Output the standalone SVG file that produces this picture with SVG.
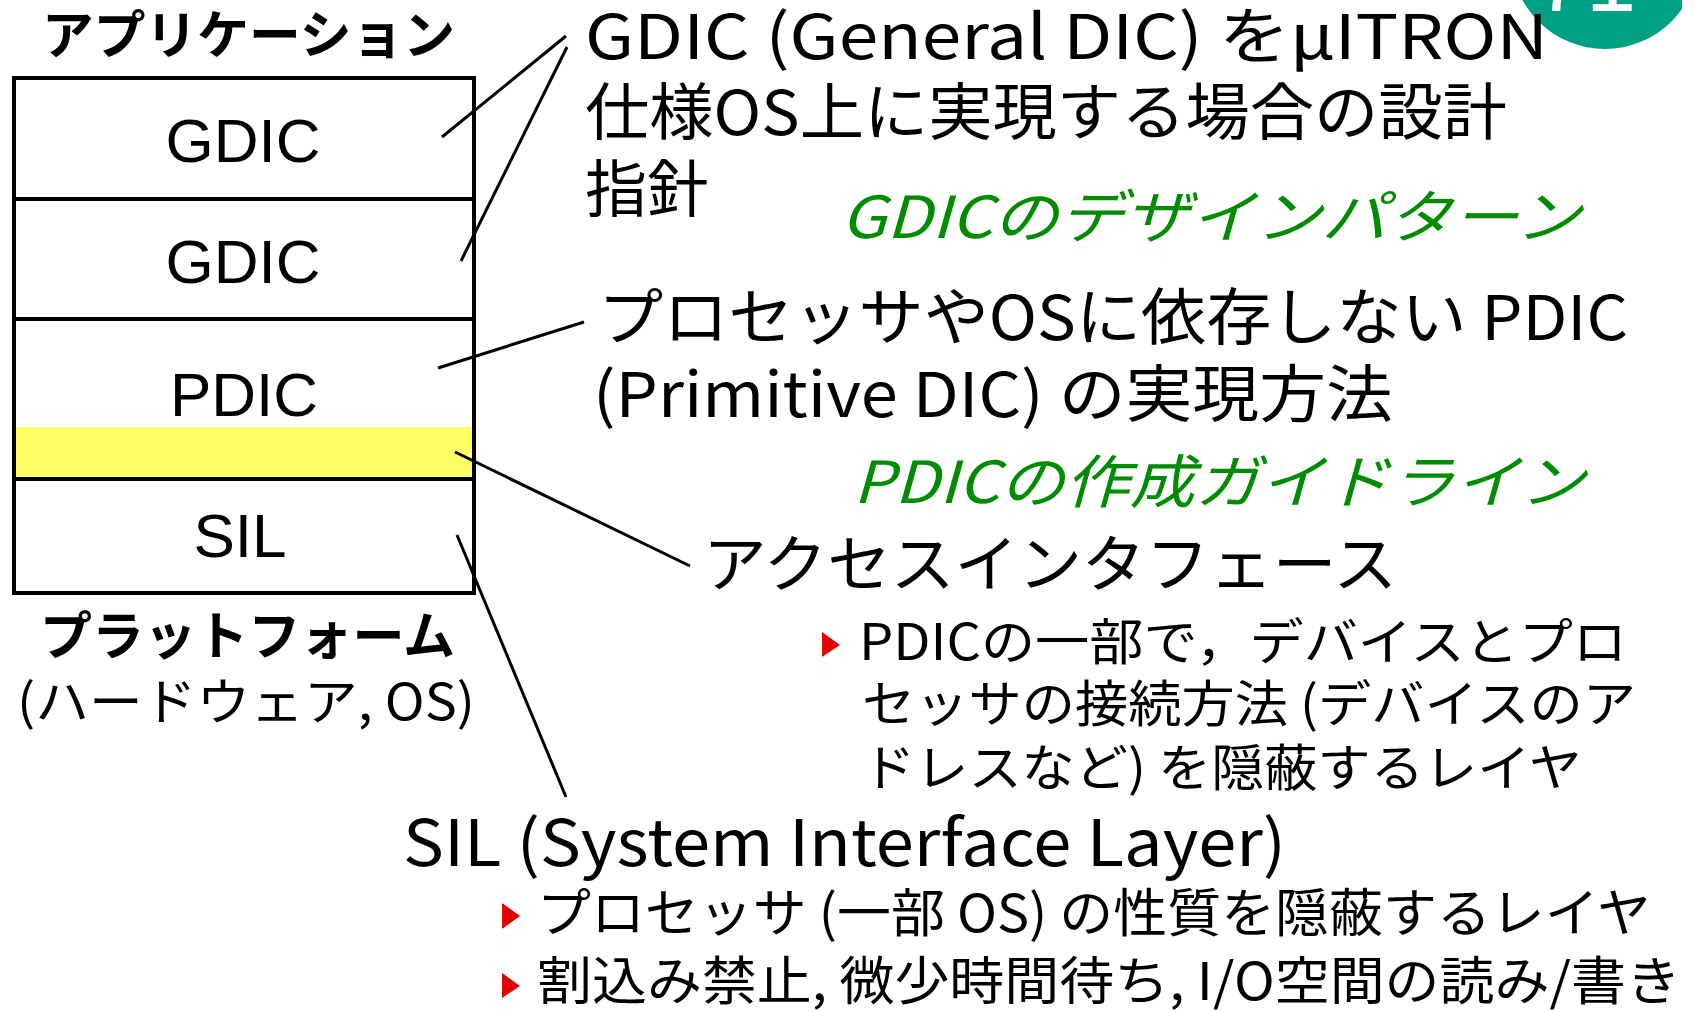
<svg xmlns="http://www.w3.org/2000/svg" width="1695" height="1012" viewBox="0 0 1695 1012">
<style>
.jp{font-family:"Noto Sans CJK JP","Liberation Sans",sans-serif;fill:#000}
.b{font-weight:bold}
.lb{font-family:"Liberation Sans","Noto Sans CJK JP",sans-serif;font-size:62px;text-anchor:middle;fill:#000}
.g{font-family:"Noto Sans CJK JP","Liberation Sans",sans-serif;font-style:italic;fill:#008c00;font-size:58px}
.box{fill:#fff;stroke:#000;stroke-width:4}
.ln{stroke:#000;stroke-width:3;fill:none}
.tri{fill:#e00000}
</style>
<defs>
<clipPath id="cp"><rect x="0" y="0" width="1682" height="1012"/></clipPath>
</defs>
<rect width="1695" height="1012" fill="#fff"/>
<g id="badge" clip-path="url(#cp)">
<circle cx="1605" cy="-45" r="94" fill="#00a085"/>
<text x="1536" y="11" font-family="Liberation Sans, sans-serif" font-size="90" fill="#fff">71</text>
</g>
<g id="stack">
<rect class="box" x="14" y="78" width="460" height="515"/>
<rect x="16" y="427" width="456" height="50" fill="#ffff66"/>
<line class="ln" x1="14" y1="199" x2="474" y2="199" style="stroke-width:4"/>
<line class="ln" x1="14" y1="319" x2="474" y2="319" style="stroke-width:4"/>
<line class="ln" x1="14" y1="479" x2="474" y2="479" style="stroke-width:4"/>
</g>
<g id="gdic1"><text class="lb" x="243" y="162">GDIC</text></g>
<g id="gdic2"><text class="lb" x="243" y="283">GDIC</text></g>
<g id="pdic"><text class="lb" x="244" y="416">PDIC</text></g>
<g id="sil"><text class="lb" x="240" y="557">SIL</text></g>
<g id="app"><text class="jp b" x="42" y="54" font-size="52" textLength="413" lengthAdjust="spacingAndGlyphs">アプリケーション</text></g>
<g id="platform">
<text class="jp b" x="40" y="655" font-size="52" textLength="415" lengthAdjust="spacingAndGlyphs">プラットフォーム</text>
<text class="jp" x="17" y="720" font-size="50" textLength="458" lengthAdjust="spacingAndGlyphs">(ハードウェア, OS)</text>
</g>
<g id="connectors">
<line class="ln" x1="566" y1="36" x2="442" y2="137"/>
<line class="ln" x1="567" y1="47" x2="461" y2="261"/>
<line class="ln" x1="584" y1="322" x2="438" y2="368"/>
<line class="ln" x1="455" y1="452" x2="690" y2="566"/>
<line class="ln" x1="457" y1="535" x2="566" y2="797"/>
</g>
<g id="gdic-desc">
<text class="jp" x="585" y="59" font-size="62" textLength="963" lengthAdjust="spacingAndGlyphs">GDIC (General DIC) をμITRON</text>
<text class="jp" x="585" y="135" font-size="62" textLength="922" lengthAdjust="spacingAndGlyphs">仕様OS上に実現する場合の設計</text>
<text class="jp" x="585" y="212" font-size="62">指針</text>
<text class="g" x="841" y="238" textLength="740" lengthAdjust="spacingAndGlyphs">GDICのデザインパターン</text>
</g>
<g id="pdic-desc">
<text class="jp" x="598" y="340" font-size="62" textLength="1030" lengthAdjust="spacingAndGlyphs">プロセッサやOSに依存しない PDIC</text>
<text class="jp" x="593" y="417" font-size="62" textLength="800" lengthAdjust="spacingAndGlyphs">(Primitive DIC) の実現方法</text>
<text class="g" x="853" y="503" textLength="732" lengthAdjust="spacingAndGlyphs">PDICの作成ガイドライン</text>
</g>
<g id="access-desc">
<text class="jp" x="703" y="587" font-size="62" textLength="694" lengthAdjust="spacingAndGlyphs">アクセスインタフェース</text>
<polygon class="tri" points="822,632 840,645 822,657"/>
<text class="jp" x="859" y="660" font-size="50" textLength="768" lengthAdjust="spacingAndGlyphs">PDICの一部で，デバイスとプロ</text>
<text class="jp" x="862" y="722" font-size="50" textLength="774" lengthAdjust="spacingAndGlyphs">セッサの接続方法 (デバイスのア</text>
<text class="jp" x="862" y="786" font-size="50" textLength="720" lengthAdjust="spacingAndGlyphs">ドレスなど) を隠蔽するレイヤ</text>
</g>
<g id="sil-desc">
<text class="jp" x="403" y="866" font-size="64" textLength="883" lengthAdjust="spacingAndGlyphs">SIL (System Interface Layer)</text>
<polygon class="tri" points="502,903 520,916 502,929"/>
<text class="jp" x="537" y="932" font-size="52" textLength="1114" lengthAdjust="spacingAndGlyphs">プロセッサ (一部 OS) の性質を隠蔽するレイヤ</text>
<polygon class="tri" points="502,973 520,986 502,998"/>
<text class="jp" x="537" y="1000" font-size="52" textLength="1144" lengthAdjust="spacingAndGlyphs">割込み禁止, 微少時間待ち, I/O空間の読み/書き</text>
</g>
</svg>
